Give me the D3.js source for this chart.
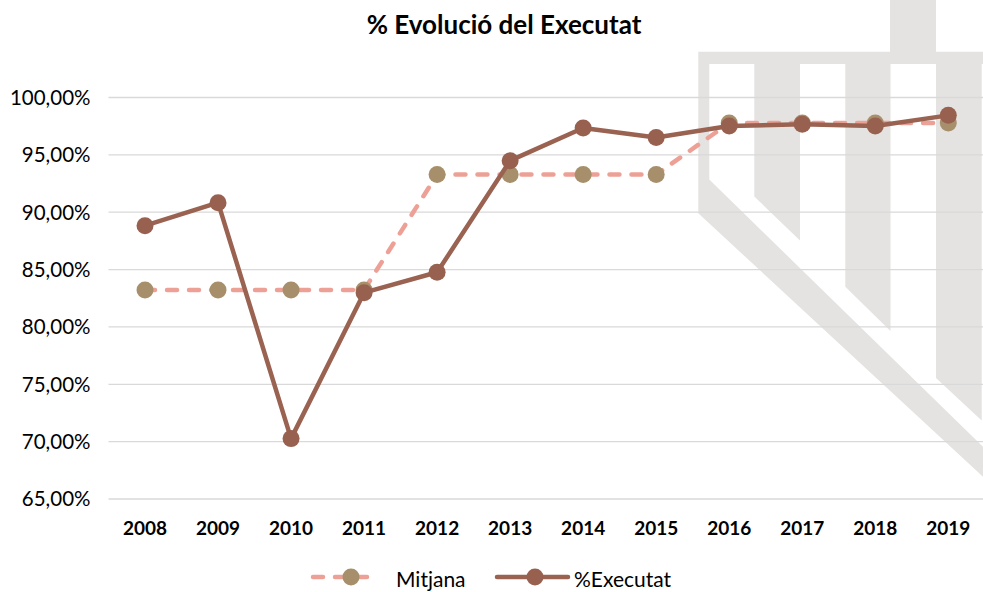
<!DOCTYPE html>
<html>
<head>
<meta charset="utf-8">
<script src="https://cdn.jsdelivr.net/npm/d3@7"></script>
<style>
  body { margin: 0; background: #fff; }
  svg { display: block; }
  text { font-family: Lato, "Open Sans", sans-serif; fill: #000; }
</style>
</head>
<body>
<svg id="chart" width="983" height="592"></svg>
<script>
// Years on the horizontal axis
const years = ["2008", "2009", "2010", "2011", "2012", "2013", "2014", "2015", "2016", "2017", "2018", "2019"];
// Executed share per year
const executat = [0.8878, 0.9079, 0.7022, 0.8294, 0.8472, 0.9445, 0.9730, 0.9647, 0.9747, 0.9762, 0.9747, 0.9840];
// Period average (four-year blocks)
const mitjana = [0.8318, 0.8318, 0.8318, 0.8318, 0.9324, 0.9324, 0.9324, 0.9324, 0.9774, 0.9774, 0.9774, 0.9774];
// Vertical axis ticks
const yTicks = [0.65, 0.70, 0.75, 0.80, 0.85, 0.90, 0.95, 1.00];
const seriesNames = ["Mitjana", "%Executat"];

const plot = { left: 108.5, right: 984.8, top: 97, bottom: 498.5 };

const colors = {
  mitjanaLine: "#eda196",
  mitjanaDot: "#a68f6a",
  execLine: "#9a6251",
  execDot: "#98604e",
  grid: "#d9d9d9",
  logo: "#e4e3e1"
};

const svg = d3.select("#chart");

// Background emblem in light grey
const logo = svg.append("g").attr("fill", colors.logo);
const logoShapes = [
  // top stem
  [[890, 0], [936, 0], [936, 52], [890, 52]],
  // top crossbar
  [[698.3, 51.7], [983, 51.7], [983, 64], [698.3, 64]],
  // left strip joined to the long diagonal
  [[698.3, 64], [709.3, 64], [709.3, 179.6], [983, 446.7], [983, 476.7], [698.3, 213.3]],
  // three columns cut diagonally at the bottom
  [[754.3, 64], [800, 64], [800, 240.5], [754.3, 196.5]],
  [[845.3, 64], [890.5, 64], [890.5, 331], [845.3, 286.7]],
  [[936, 64], [981.7, 64], [981.7, 420.5], [936, 378]]
];
logo.selectAll("path").data(logoShapes).join("path")
  .attr("d", d => "M" + d.map(p => p.join(",")).join("L") + "Z");

// Scales
const x = d3.scaleBand().domain(years).range([plot.left, plot.right]);
const y = d3.scaleLinear().domain([0.65, 1.0]).range([plot.bottom, plot.top]);
const cx = d => x(d) + x.bandwidth() / 2;

const locale = d3.formatLocale({ decimal: ",", thousands: ".", grouping: [3], currency: ["", " €"] });
const pct = locale.format(".2%");

// Y axis with gridlines
const yAxis = svg.append("g")
  .attr("transform", `translate(${plot.left},0)`)
  .call(d3.axisLeft(y).tickValues(yTicks).tickFormat(pct)
    .tickSize(-(plot.right - plot.left)).tickPadding(18));
yAxis.select(".domain").remove();
yAxis.selectAll(".tick line").attr("stroke", colors.grid).attr("stroke-width", 1.3);
yAxis.selectAll(".tick text")
  .attr("font-family", "Lato, 'Open Sans', sans-serif")
  .attr("font-size", 20.5).attr("fill", "#000").attr("dy", "0.36em");

// X axis labels
const xAxis = svg.append("g")
  .attr("transform", `translate(0,${plot.bottom})`)
  .call(d3.axisBottom(x).tickSize(0).tickPadding(23));
xAxis.select(".domain").remove();
xAxis.selectAll(".tick text")
  .attr("font-family", "Lato, 'Open Sans', sans-serif")
  .attr("font-size", 19).attr("font-weight", "bold").attr("fill", "#000");

// Title
svg.append("text")
  .attr("x", 504).attr("y", 34)
  .attr("text-anchor", "middle")
  .attr("font-size", 26).attr("font-weight", "bold")
  .text("% Evolució del Executat");

const line = d3.line().x((d, i) => cx(years[i])).y(d => y(d));

// Average series (dashed)
svg.append("path").datum(mitjana)
  .attr("d", line)
  .attr("fill", "none")
  .attr("stroke", colors.mitjanaLine)
  .attr("stroke-width", 4.5)
  .attr("stroke-linecap", "round")
  .attr("stroke-dasharray", "10,12");
svg.append("g").selectAll("circle").data(mitjana).join("circle")
  .attr("cx", (d, i) => cx(years[i])).attr("cy", d => y(d))
  .attr("r", 8.5).attr("fill", colors.mitjanaDot);

// Executed series
svg.append("path").datum(executat)
  .attr("d", line)
  .attr("fill", "none")
  .attr("stroke", colors.execLine)
  .attr("stroke-width", 4.5)
  .attr("stroke-linejoin", "round");
svg.append("g").selectAll("circle").data(executat).join("circle")
  .attr("cx", (d, i) => cx(years[i])).attr("cy", d => y(d))
  .attr("r", 8.5).attr("fill", colors.execDot);

// Legend
const legendY = 577;
const legendItems = [
  { name: seriesNames[0], x0: 313, x1: 378, dot: 351, tx: 396, line: colors.mitjanaLine, dotColor: colors.mitjanaDot, dash: "10,12" },
  { name: seriesNames[1], x0: 497, x1: 568, dot: 535, tx: 574, line: colors.execLine, dotColor: colors.execDot, dash: null }
];
const lg = svg.append("g").selectAll("g").data(legendItems).join("g");
lg.append("line")
  .attr("x1", d => d.x0).attr("x2", d => d.x1)
  .attr("y1", legendY).attr("y2", legendY)
  .attr("stroke", d => d.line).attr("stroke-width", 4.5)
  .attr("stroke-linecap", "round")
  .attr("stroke-dasharray", d => d.dash);
lg.append("circle")
  .attr("cx", d => d.dot).attr("cy", legendY).attr("r", 8.5)
  .attr("fill", d => d.dotColor);
lg.append("text")
  .attr("x", d => d.tx).attr("y", 587)
  .attr("font-size", 21)
  .text(d => d.name);
</script>
</body>
</html>
